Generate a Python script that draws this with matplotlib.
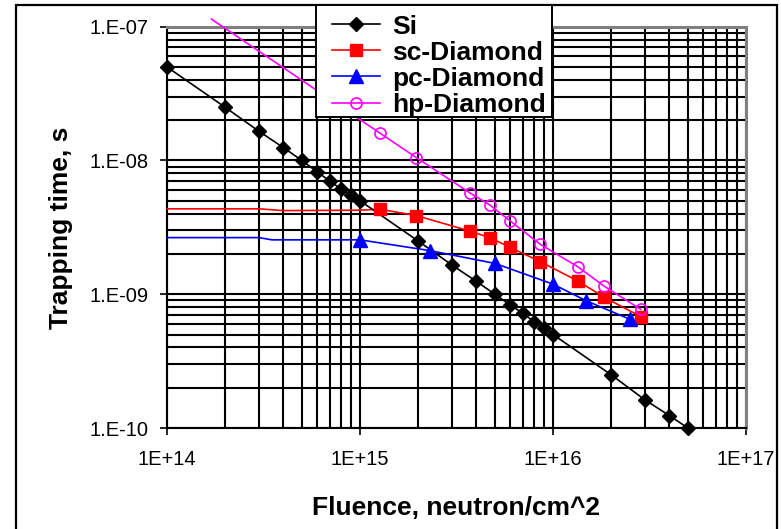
import matplotlib
matplotlib.use("Agg")
import matplotlib.pyplot as plt
from matplotlib.patches import Rectangle
from matplotlib.ticker import FixedLocator, NullFormatter

plt.rcParams['font.family'] = ['Liberation Sans', 'DejaVu Sans']

# Si: tau vs fluence
si_x = [1e14, 2e14, 3e14, 4e14, 5e14, 6e14, 7e14, 8e14, 9e14, 1e15,
        2e15, 3e15, 4e15, 5e15, 6e15, 7e15, 8e15, 9e15, 1e16,
        2e16, 3e16, 4e16, 5e16]
si_y = [5.0e-8, 2.5e-8, 1.65e-8, 1.25e-8, 1.0e-8, 8.2e-9, 7.0e-9, 6.1e-9, 5.5e-9, 5.0e-9,
        2.5e-9, 1.65e-9, 1.25e-9, 1.0e-9, 8.3e-10, 7.2e-10, 6.2e-10, 5.6e-10, 5.0e-10,
        2.5e-10, 1.62e-10, 1.24e-10, 1.0e-10]

# diamond data points (sc and hp share fluences)
dia_x = [1.27e15, 1.96e15, 3.7e15, 4.7e15, 6.0e15, 8.6e15, 1.34e16, 1.84e16, 2.85e16]
sc_y = [4.32e-9, 3.87e-9, 2.97e-9, 2.65e-9, 2.24e-9, 1.75e-9, 1.26e-9, 9.5e-10, 6.8e-10]
hp_y = [1.6e-8, 1.05e-8, 5.74e-9, 4.65e-9, 3.53e-9, 2.36e-9, 1.61e-9, 1.15e-9, 7.7e-10]

pc_x = [1e15, 2.3e15, 5e15, 1e16, 1.48e16, 2.5e16]
pc_y = [2.55e-9, 2.12e-9, 1.7e-9, 1.19e-9, 8.96e-10, 6.5e-10]

# low fluence part of the curves (no markers)
sc_lead_x = [1e14, 3e14, 4e14, 1e15]
sc_lead_y = [4.35e-9, 4.35e-9, 4.22e-9, 4.25e-9]
pc_lead_x = [1e14, 3e14, 3.5e14, 8e14]
pc_lead_y = [2.65e-9, 2.65e-9, 2.55e-9, 2.55e-9]
hp_lead_x = [1.7e14]
hp_lead_y = [1.14e-7]

W, H = 781, 529
fig = plt.figure(figsize=(W/100, H/100), dpi=100)
ax = fig.add_axes([167/W, 1-428/H, (746-167)/W, (428-26.7)/H])
ax.set_xscale('log')
ax.set_yscale('log')
ax.set_xlim(1e14, 1e17)
ax.set_ylim(1e-10, 1e-7)

# grid
ax.xaxis.set_minor_locator(FixedLocator([m*10**e for e in range(14, 17) for m in range(2, 10)]))
ax.yaxis.set_minor_locator(FixedLocator([m*10.0**e for e in range(-10, -7) for m in range(2, 10)]))
ax.xaxis.set_minor_formatter(NullFormatter())
ax.yaxis.set_minor_formatter(NullFormatter())
ax.grid(True, which='both', color='black', lw=1.5)
ax.set_axisbelow(True)

xt = [1e14, 1e15, 1e16, 1e17]
yt = [1e-10, 1e-9, 1e-8, 1e-7]
ax.set_xticks(xt)
ax.set_xticklabels(['1E+14', '1E+15', '1E+16', '1E+17'])
ax.set_yticks(yt)
ax.set_yticklabels(['1.E-10', '1.E-09', '1.E-08', '1.E-07'])
ax.tick_params(which='major', length=5, width=1.2, labelsize=14.5)
ax.tick_params(axis='x', pad=11)
ax.tick_params(axis='y', pad=8)
ax.tick_params(which='minor', length=0)

for s in ['top', 'right']:
    ax.spines[s].set_color('#808080')
    ax.spines[s].set_linewidth(2.2)
for s in ['left', 'bottom']:
    ax.spines[s].set_color('black')
    ax.spines[s].set_linewidth(1.5)

# curves
ax.plot(sc_lead_x + dia_x, sc_lead_y + sc_y, color='red', lw=1.2, clip_on=False, zorder=3)
ax.plot(pc_lead_x + pc_x, pc_lead_y + pc_y, color='blue', lw=1.2, clip_on=False, zorder=3)
ax.plot(hp_lead_x + dia_x, hp_lead_y + hp_y, color='magenta', lw=1.2, clip_on=False, zorder=3)
ax.plot(si_x, si_y, color='black', lw=1.2, clip_on=False, zorder=4)

ax.plot(si_x, si_y, color='black', marker='D', ms=7.5, ls='none', clip_on=False, zorder=5)
ax.plot(dia_x, sc_y, color='red', marker='s', ms=8.5, ls='none', clip_on=False, zorder=5)
ax.plot(pc_x, pc_y, color='blue', marker='^', ms=9.5, ls='none', clip_on=False, zorder=5)
ax.plot(dia_x, hp_y, color='magenta', marker='o', ms=8, mfc='none', mew=1.2,
        ls='none', clip_on=False, zorder=5)

# legend proxies with line+marker
h_si, = ax.plot([], [], color='black', lw=1.2, marker='D', ms=7.5)
h_sc, = ax.plot([], [], color='red', lw=1.2, marker='s', ms=8.5)
h_pc, = ax.plot([], [], color='blue', lw=1.2, marker='^', ms=9.5)
h_hp, = ax.plot([], [], color='magenta', lw=1.2, marker='o', ms=8, mfc='none', mew=1.2)

ax.set_xlabel('Fluence, neutron/cm^2', fontsize=19, fontweight='bold', labelpad=19)
ax.set_ylabel('Trapping time, s', fontsize=19, fontweight='bold', labelpad=12)

# legend box drawn separately, entries placed inside without frame
fig.patches.append(Rectangle((316/W, 1-117/H), (552-316)/W, (117-5)/H, transform=fig.transFigure,
                             fc='white', ec='black', lw=1.4, zorder=8))
leg = fig.legend([h_si, h_sc, h_pc, h_hp], ['Si', 'sc-Diamond', 'pc-Diamond', 'hp-Diamond'],
                 loc='upper left', bbox_to_anchor=(331.5/W, 1-14.5/H), bbox_transform=fig.transFigure,
                 borderaxespad=0, numpoints=1, handlelength=1.83, handletextpad=0.48,
                 labelspacing=0.08, borderpad=0, frameon=False,
                 prop={'size': 19, 'weight': 'bold'})
leg.set_zorder(10)

# outer chart frame
fig.patches.append(Rectangle((16/W, -0.02), (777-16)/W, 1-5/H+0.02, transform=fig.transFigure,
                             fill=False, ec='black', lw=1.6, zorder=0))

fig.savefig('out.png', dpi=100)
